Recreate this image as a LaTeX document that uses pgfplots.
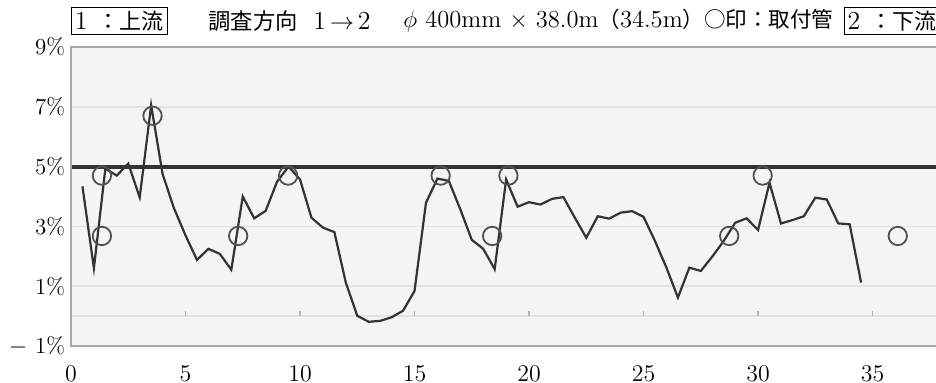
\documentclass[border=0pt]{standalone}
\usepackage{pgfplots}
\pgfplotsset{compat=1.18}
\usepackage{fontspec}
\newfontfamily\cjk{Noto Sans CJK JP}
\definecolor{bg}{HTML}{F4F4F4}
\definecolor{gridc}{HTML}{E2E2E2}
\definecolor{frame}{HTML}{A8A8A8}
\definecolor{linec}{HTML}{333333}
\definecolor{circc}{HTML}{505050}
\pgfplotstableread{
x y
0.5 4.34
1.0 1.6
1.5 4.93
2.0 4.7
2.5 5.1
3.0 3.97
3.5 7.05
4.0 4.75
4.5 3.6
5.0 2.7
5.5 1.88
6.0 2.25
6.5 2.08
7.0 1.55
7.5 4.0
8.0 3.27
8.5 3.52
9.0 4.5
9.5 5.0
10.0 4.57
10.5 3.29
11.0 2.96
11.5 2.81
12.0 1.12
12.5 0.01
13.0 -0.19
13.5 -0.16
14.0 -0.04
14.5 0.18
15.0 0.84
15.5 3.79
16.0 4.6
16.5 4.52
17.0 3.57
17.5 2.55
18.0 2.25
18.5 1.57
19.0 4.57
19.5 3.66
20.0 3.81
20.5 3.73
21.0 3.92
21.5 3.98
22.0 3.29
22.5 2.62
23.0 3.34
23.5 3.26
24.0 3.46
24.5 3.51
25.0 3.32
25.5 2.51
26.0 1.62
26.5 0.62
27.0 1.62
27.5 1.51
28.0 1.99
28.5 2.51
29.0 3.12
29.5 3.27
30.0 2.88
30.5 4.46
31.0 3.1
31.5 3.21
32.0 3.34
32.5 3.96
33.0 3.9
33.5 3.1
34.0 3.07
34.5 1.12
}\gradient
\pgfplotstableread{
x y
1.35 2.68
1.35 4.7
3.56 6.7
7.3 2.68
9.48 4.7
16.14 4.7
18.39 2.68
19.1 4.7
28.74 2.68
30.2 4.7
36.1 2.68
}\pipes
\begin{document}
\begin{tikzpicture}
\useasboundingbox (0,0) rectangle (468bp,191.5bp);
\begin{axis}[
  at={(35.5bp,18.5bp)}, anchor=south west,
  scale only axis, width=432.5bp, height=149.5bp,
  xmin=0, xmax=37.77, ymin=-1, ymax=9,
  clip=false,
  axis background/.style={fill=bg},
  axis line style={draw=none},
  tick style={draw=none},
  xtick={0,5,...,35},
  ytick={-1,1,3,5,7,9},
  yticklabels={{$-$\ 1\%},1\%,3\%,5\%,7\%,9\%},
  extra y ticks={0}, extra y tick labels={},
  ymajorgrids, grid style={gridc, line width=0.8bp},
  extra y tick style={grid style={gridc, line width=0.8bp}},
  tick label style={font=\fontsize{11.5}{13}\selectfont},
  xticklabel style={yshift=-6.5bp},
  yticklabel style={xshift=0.5bp},
]
\addplot[linec, line width=2.1bp, forget plot] coordinates {(0,5) (37.77,5)};
\pgfplotsinvokeforeach{5,10,...,35}{\draw[gridc!80!black, line width=0.6bp] (axis cs:#1,0) -- (axis cs:#1,0.16);}
\addplot[linec, line width=1.1bp, mark=none] table[x=x,y=y]{\gradient};
\addplot[only marks, mark=o, mark size=4.6bp, circc, mark options={line width=0.9bp}] table[x=x,y=y]{\pipes};
\draw[frame, line width=1bp] (rel axis cs:1,1) -- (rel axis cs:0,1) -- (rel axis cs:0,0) -- (rel axis cs:1,0);
\end{axis}
\node[draw, line width=0.5bp, inner sep=1.5bp, minimum width=48bp, minimum height=13.5bp, anchor=west, font=\fontsize{13}{15}\selectfont] at (35.3bp,181bp) {1\hspace{5bp}{\cjk\fontsize{11}{13}\selectfont ：上流}};
\node[anchor=west, inner sep=0pt] at (104bp,181bp) {\cjk\fontsize{11.2}{13}\selectfont 調査方向};
\node[anchor=west, inner sep=0pt, font=\fontsize{13}{15}\selectfont] at (156.5bp,181bp) {1$\,\rightarrow\,$2};
\node[anchor=west, inner sep=0pt, font=\fontsize{12.3}{15}\selectfont] at (201.5bp,181bp) {$\phi$ 400mm $\times$ 38.0m{\cjk\fontsize{10.8}{13}\selectfont （}34.5m{\cjk\fontsize{10.8}{13}\selectfont ）○印：取付管}};
\node[draw, line width=0.5bp, inner sep=1.5bp, minimum height=13.5bp, anchor=west, font=\fontsize{13}{15}\selectfont] at (422bp,181bp) {2\hspace{5bp}{\cjk\fontsize{11}{13}\selectfont ：下流}};
\end{tikzpicture}
\end{document}
